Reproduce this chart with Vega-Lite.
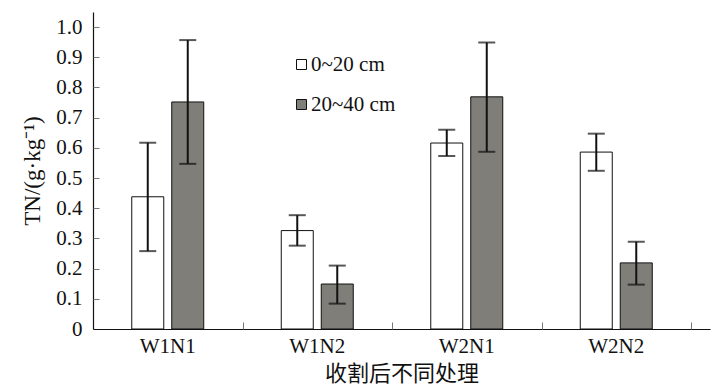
{
  "$schema": "https://vega.github.io/schema/vega-lite/v6.json",
  "width": 617,
  "height": 317,
  "autosize": {"type": "none"},
  "padding": {"left": 93, "top": 12, "right": 9, "bottom": 62},
  "background": "white",
  "config": {
    "view": {"stroke": null},
    "axis": {"grid": false}
  },
  "data": {
    "values": [
      {"treatment": "W1N1", "depth": "0~20 cm", "mean": 0.438, "lo": 0.258, "hi": 0.617},
      {"treatment": "W1N1", "depth": "20~40 cm", "mean": 0.752, "lo": 0.547, "hi": 0.957},
      {"treatment": "W1N2", "depth": "0~20 cm", "mean": 0.326, "lo": 0.276, "hi": 0.377},
      {"treatment": "W1N2", "depth": "20~40 cm", "mean": 0.149, "lo": 0.084, "hi": 0.21},
      {"treatment": "W2N1", "depth": "0~20 cm", "mean": 0.616, "lo": 0.573, "hi": 0.66},
      {"treatment": "W2N1", "depth": "20~40 cm", "mean": 0.769, "lo": 0.587, "hi": 0.949},
      {"treatment": "W2N2", "depth": "0~20 cm", "mean": 0.586, "lo": 0.524, "hi": 0.647},
      {"treatment": "W2N2", "depth": "20~40 cm", "mean": 0.219, "lo": 0.147, "hi": 0.289}
    ]
  },
  "resolve": {"axis": {"x": "independent", "y": "independent"}},
  "layer": [
    {
      "mark": {"type": "bar", "stroke": "#111", "strokeWidth": 1},
      "encoding": {
        "x": {
          "field": "treatment",
          "type": "nominal",
          "sort": null,
          "scale": {"paddingInner": 0, "paddingOuter": 0.0635, "align": 0},
          "axis": {
            "orient": "bottom",
            "title": "收割后不同处理",
            "titleFont": "Noto Sans CJK SC",
            "titleFontSize": 22,
            "titleFontWeight": "normal",
            "titleColor": "#111",
            "titlePadding": 7,
            "labelFont": "Liberation Serif",
            "labelFontSize": 21,
            "labelColor": "#111",
            "labelAngle": 0,
            "labelPadding": 6,
            "ticks": false,
            "domainColor": "#111",
            "domainWidth": 1.2
          }
        },
        "xOffset": {
          "field": "depth",
          "type": "nominal",
          "sort": null,
          "scale": {"paddingInner": 0.2, "paddingOuter": 0.969}
        },
        "y": {
          "field": "mean",
          "type": "quantitative",
          "scale": {"domain": [0, 1.05], "nice": false, "zero": true},
          "axis": {
            "orient": "left",
            "title": "TN/(g·kg⁻¹)",
            "titleFont": "Liberation Serif",
            "titleFontSize": 23,
            "titleFontWeight": "normal",
            "titleColor": "#111",
            "titlePadding": 11,
            "values": [0, 0.1, 0.2, 0.3, 0.4, 0.5, 0.6, 0.7, 0.8, 0.9, 1.0],
            "labelExpr": "datum.value == 0 ? '0' : format(datum.value, '.1f')",
            "labelOverlap": false,
            "labelFont": "Liberation Serif",
            "labelFontSize": 21,
            "labelColor": "#111",
            "labelPadding": 11,
            "ticks": false,
            "domainColor": "#111",
            "domainWidth": 1.2
          }
        },
        "fill": {
          "field": "depth",
          "type": "nominal",
          "sort": null,
          "scale": {"domain": ["0~20 cm", "20~40 cm"], "range": ["#ffffff", "#7f7e79"]},
          "legend": {
            "title": null,
            "orient": "none",
            "legendX": 198,
            "legendY": 42,
            "symbolType": "square",
            "symbolSize": 100,
            "symbolStrokeColor": "#111",
            "symbolStrokeWidth": 1,
            "labelFont": "Liberation Serif",
            "labelFontSize": 21,
            "labelColor": "#111",
            "labelOffset": -1,
            "rowPadding": 18
          }
        }
      }
    },
    {
      "mark": {"type": "rule", "color": "#111", "strokeWidth": 2},
      "encoding": {
        "x": {
          "field": "treatment",
          "type": "nominal",
          "sort": null,
          "axis": {
            "orient": "bottom",
            "offset": -7,
            "title": null,
            "labels": false,
            "domain": false,
            "ticks": true,
            "tickBand": "extent",
            "tickSize": 7,
            "tickColor": "#777",
            "tickWidth": 1
          }
        },
        "xOffset": {"field": "depth", "type": "nominal", "sort": null},
        "y": {
          "field": "lo",
          "type": "quantitative",
          "axis": {
            "orient": "left",
            "offset": -6,
            "title": null,
            "labels": false,
            "domain": false,
            "ticks": true,
            "values": [0.1, 0.2, 0.3, 0.4, 0.5, 0.6, 0.7, 0.8, 0.9, 1.0],
            "tickSize": 6,
            "tickColor": "#777",
            "tickWidth": 1
          }
        },
        "y2": {"field": "hi"}
      }
    },
    {
      "mark": {"type": "tick", "color": "#111", "size": 17, "thickness": 2},
      "encoding": {
        "x": {"field": "treatment", "type": "nominal", "sort": null, "axis": null},
        "xOffset": {"field": "depth", "type": "nominal", "sort": null},
        "y": {"field": "lo", "type": "quantitative", "axis": null}
      }
    },
    {
      "mark": {"type": "tick", "color": "#111", "size": 17, "thickness": 2},
      "encoding": {
        "x": {"field": "treatment", "type": "nominal", "sort": null, "axis": null},
        "xOffset": {"field": "depth", "type": "nominal", "sort": null},
        "y": {"field": "hi", "type": "quantitative", "axis": null}
      }
    }
  ]
}
